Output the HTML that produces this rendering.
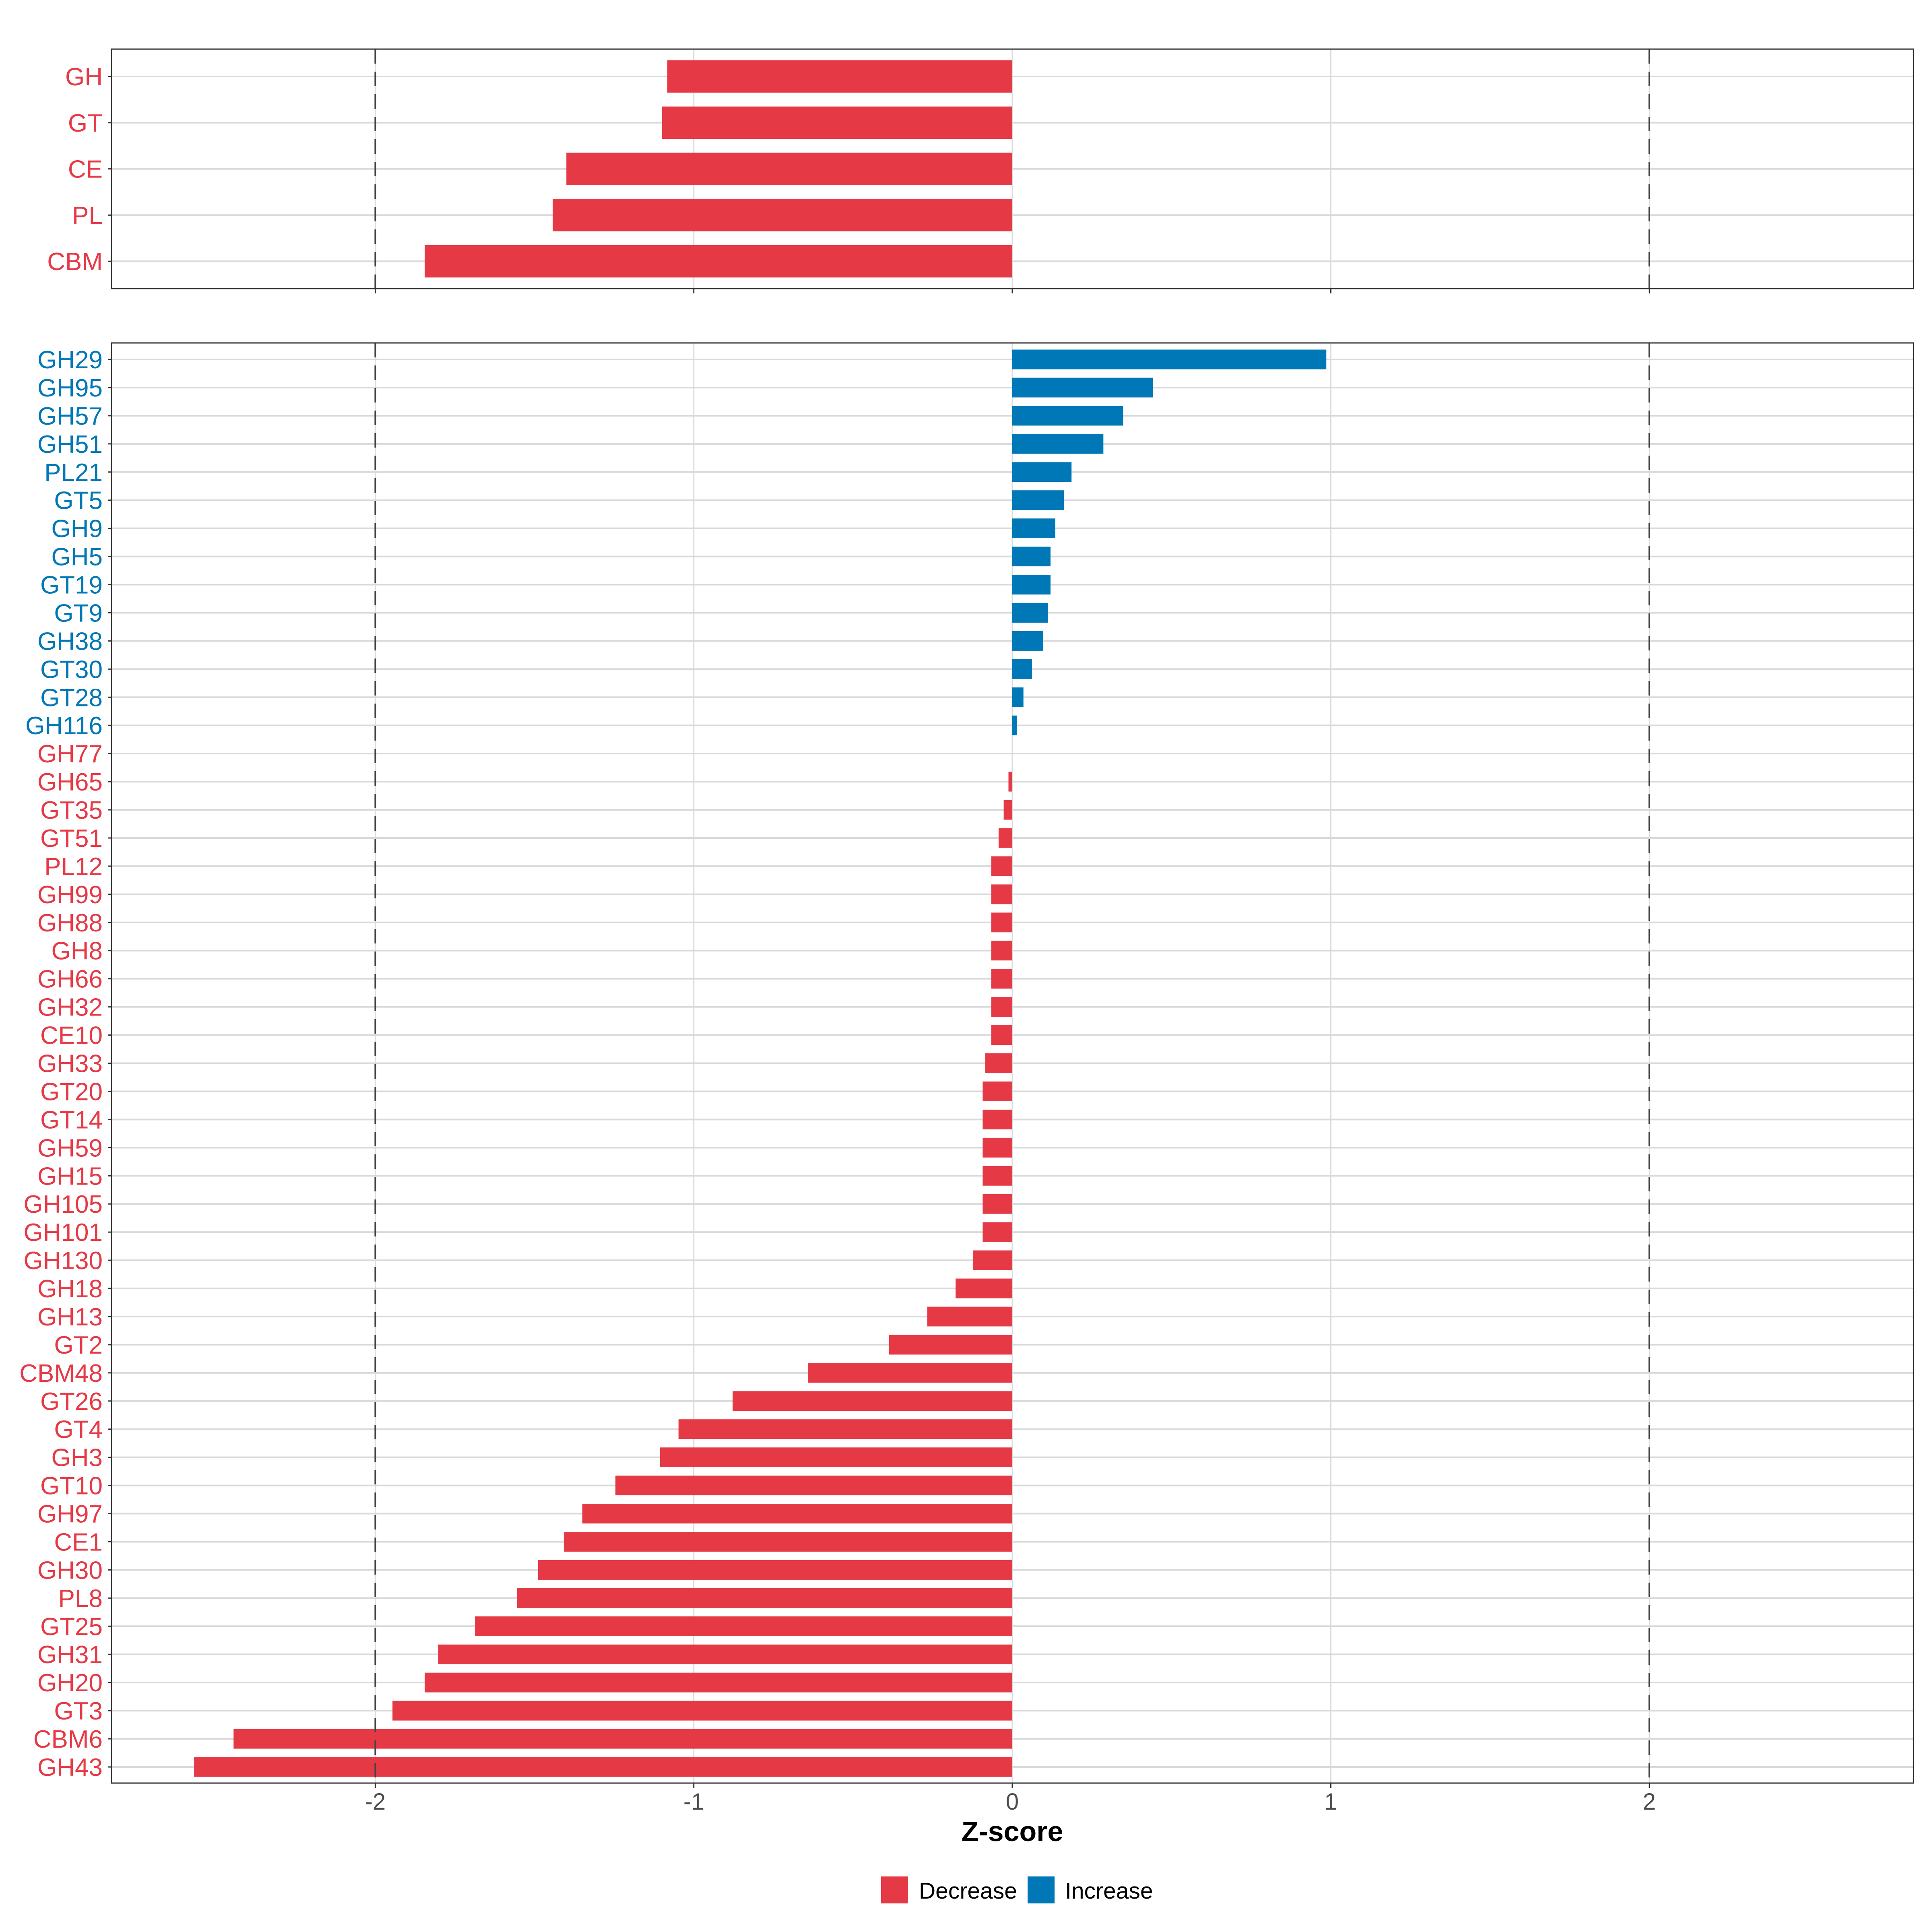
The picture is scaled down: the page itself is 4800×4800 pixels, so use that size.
<!DOCTYPE html>
<html><head><meta charset="utf-8"><style>
html,body{margin:0;padding:0;background:#fff}
svg{display:block}
text{font-family:"Liberation Sans",sans-serif}
</style></head><body>
<svg id="chart" width="4800" height="4800" viewBox="0 0 4800 4800" xmlns="http://www.w3.org/2000/svg">
<g id="top"></g>
<g id="bottom"></g>
<text x="2515" y="4574" font-size="70" font-weight="bold" text-anchor="middle" fill="#000">Z-score</text>
<g>
<rect x="2189" y="4662" width="67" height="67" fill="#e63946"/>
<text x="2283" y="4717" font-size="57" fill="#000">Decrease</text>
<rect x="2553" y="4662" width="67" height="67" fill="#0077b6"/>
<text x="2646" y="4717" font-size="57" fill="#000">Increase</text>
</g>
</svg>
<script>
const topCategories = ["GH","GT","CE","PL","CBM"];
const topValues = [-1.083,-1.10,-1.40,-1.443,-1.845];
const bottomCategories = ["GH29","GH95","GH57","GH51","PL21","GT5","GH9","GH5","GT19","GT9","GH38","GT30","GT28","GH116","GH77","GH65","GT35","GT51","PL12","GH99","GH88","GH8","GH66","GH32","CE10","GH33","GT20","GT14","GH59","GH15","GH105","GH101","GH130","GH18","GH13","GT2","CBM48","GT26","GT4","GH3","GT10","GH97","CE1","GH30","PL8","GT25","GH31","GH20","GT3","CBM6","GH43"];
const bottomValues = [0.986,0.441,0.348,0.286,0.186,0.162,0.135,0.12,0.12,0.112,0.097,0.062,0.035,0.015,0,-0.012,-0.027,-0.043,-0.066,-0.066,-0.066,-0.066,-0.066,-0.066,-0.066,-0.085,-0.093,-0.093,-0.093,-0.093,-0.093,-0.093,-0.124,-0.178,-0.267,-0.387,-0.642,-0.878,-1.048,-1.106,-1.246,-1.35,-1.408,-1.489,-1.555,-1.687,-1.803,-1.845,-1.946,-2.445,-2.569];
const xTicks = [-2,-1,0,1,2];
const xTickLabels = ["-2","-1","0","1","2"];
const refLines = [-2,2];

const NS="http://www.w3.org/2000/svg";
const RED="#e63946", BLUE="#0077b6";
const PL=277, PR=4754;
function xScale(v){return 2515+v*791.3;}
function mk(p,tag,attrs){const e=document.createElementNS(NS,tag);for(const k in attrs)e.setAttribute(k,attrs[k]);p.appendChild(e);return e;}

function panel(g,cats,vals,top,bottom,firstY,step,showLabels,prefix){
  for(const t of xTicks){
    const gl=mk(g,'line',{x1:xScale(t),x2:xScale(t),y1:top,y2:bottom,stroke:'#dcdcdc','stroke-width':3});
    
    
  }
  cats.forEach((c,i)=>{
    const y=firstY+i*step;
    const gl=mk(g,'line',{x1:PL,x2:PR,y1:y,y2:y,stroke:'#d9d9d9','stroke-width':4});
    
    
  });
  cats.forEach((c,i)=>{
    const y=firstY+i*step, v=vals[i], h=step*0.7;
    const col=v>0?BLUE:RED;
    const x0=Math.min(xScale(0),xScale(v)), w=Math.abs(xScale(v)-xScale(0));
    const r=mk(g,'rect',{x:x0,y:y-h/2,width:w,height:h,fill:col});
    
    
    const tk=mk(g,'line',{x1:PL-9,x2:PL,y1:y,y2:y,stroke:'#333','stroke-width':3});
    
    
    const tx=mk(g,'text',{x:PL-22,y:y+22,'font-size':62,'text-anchor':'end',fill:col});
    tx.textContent=c;
    
    
  });
  for(const r of refLines){
    const l=mk(g,'line',{x1:xScale(r),x2:xScale(r),y1:top,y2:bottom,stroke:'#444','stroke-width':4,'stroke-dasharray':'36,20'});
    
    
  }
  const b=mk(g,'rect',{x:PL,y:top,width:PR-PL,height:bottom-top,fill:'none',stroke:'#333','stroke-width':3});
  
  
  xTicks.forEach((t,i)=>{
    const tk=mk(g,'line',{x1:xScale(t),x2:xScale(t),y1:bottom,y2:bottom+12,stroke:'#333','stroke-width':3});
    
    
    if(showLabels){
      const tx=mk(g,'text',{x:xScale(t),y:bottom+66,'font-size':58,'text-anchor':'middle',fill:'#4d4d4d'});
      tx.textContent=xTickLabels[i];
      
      
    }
  });
}
panel(document.getElementById('top'),topCategories,topValues,122,717,190,114.8,false,'top');
panel(document.getElementById('bottom'),bottomCategories,bottomValues,852,4430,893,69.94,true,'bottom');
</script>
</body></html>
